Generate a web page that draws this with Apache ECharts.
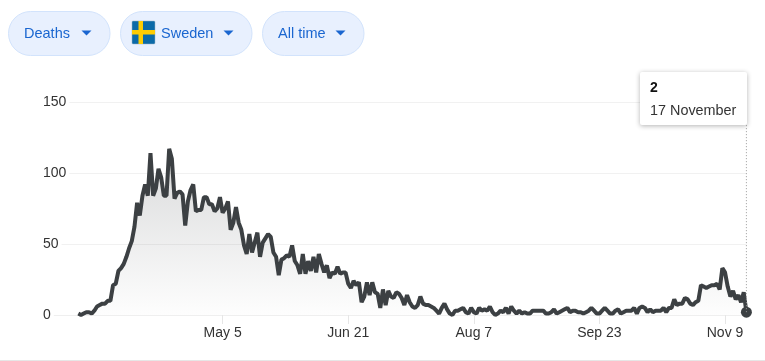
<!DOCTYPE html>
<html>
<head>
<meta charset="utf-8">
<style>html,body{margin:0;padding:0;background:#fff}#c{width:765px;height:361px}</style>
<script src="https://cdn.jsdelivr.net/npm/echarts@6/dist/echarts.min.js"></script>
</head>
<body>
<div id="c"></div>
<script>
const startDate = 'Mar 12 2020';
const deaths = [
 1,0,1,2,2,1,3,6,7,8, 8,10,10,21,22,31,33,36,41,47,
 52,62,79,70,84,92,84,114,84,89, 103,97,84,84,117,110,82,86,87,85,
 63,80,88,92,73,74,74,83,83,78, 78,73,75,83,72,75,80,60,65,76,
 65,60,49,43,57,44,51,58,41,51, 54,57,55,44,41,28,39,40,42,41,
 49,38,35,29,43,29,38,31,41,30, 43,36,30,35,26,30,29,34,29,30,
 30,22,19,24,21,23,9,13,23,14, 23,16,15,5,18,7,17,13,12,16,
 15,12,7,14,9,6,5,7,13,8, 7,7,6,5,3,1,5,8,4,1,
 0,3,3,4,5,2,1,5,2,1, 5,3,4,3,6,2,0,1,3,2,
 5,1,6,3,1,3,1,2,1,1, 3,3,3,3,3,1,1,2,4,1,
 2,3,4,5,2,3,3,2,2,1, 2,3,5,3,1,1,3,5,3,1,
 1,3,4,1,2,3,3,3,5,1, 5,6,5,2,4,2,3,3,3,5,
 2,5,5,11,7,8,8,12,11,8, 7,9,10,21,20,19,20,21,21,22,
 18,33,30,20,13,17,11,14,9,16, 2
];
const yTicks = [0, 50, 100, 150];
const tickLabels = ['May 5', 'Jun 21', 'Aug 7', 'Sep 23', 'Nov 9'];
const tooltipValue = '2';
const tooltipDate = '17 November';
const buttons = ['Deaths', 'Sweden', 'All time'];
const cursorTopValue = 134;

const DAY = 86400000;
const t0 = new Date(startDate).getTime();
const lineData = deaths.map((v, i) => [i, v]);
const last = lineData[lineData.length - 1];
const tickDays = tickLabels.map(l => Math.round((new Date(l + ' 2020').getTime() - t0) / DAY));
const labelAt = d => tickLabels[tickDays.indexOf(d)] || '';

const FONT = '"Liberation Sans", Arial, sans-serif';
const BLUE = '#1a66d0';
function pill(x, w) {
  return { type: 'rect', shape: { x: x + .5, y: 11.5, width: w - 0.5, height: 44, r: 22 },
    style: { fill: '#e8f0fe', stroke: '#d2e3fc', lineWidth: 1 } };
}
function label(x, t) {
  return { type: 'text', x: x, y: 33.5, style: { text: t, fill: BLUE, font: '14.5px ' + FONT, textVerticalAlign: 'middle' } };
}
function tri(x) {
  return { type: 'polygon', shape: { points: [[x, 30.5], [x + 10, 30.5], [x + 5, 35.5]] }, style: { fill: BLUE } };
}
const chart = echarts.init(document.getElementById('c'), null, { renderer: 'canvas' });
chart.setOption({
  animation: false,
  backgroundColor: '#fff',
  grid: { left: 51.6, right: 18.6, top: 102, bottom: 46 },
  xAxis: {
    type: 'value',
    min: -10,
    max: last[0],
    axisLine: { show: true, onZero: false, lineStyle: { color: '#efefef', width: 1 } },
    axisTick: { show: true, length: 9, customValues: tickDays, lineStyle: { color: '#e6e6e6', width: 1 } },
    axisLabel: { show: true, margin: 11, customValues: tickDays, formatter: v => labelAt(v), color: '#333', fontSize: 14, fontFamily: FONT },
    splitLine: { show: false }
  },
  yAxis: {
    type: 'value', min: yTicks[0], max: yTicks[yTicks.length - 1], interval: yTicks[1],
    axisLine: { show: false }, axisTick: { show: false },
    axisLabel: { inside: true, margin: -8.6, align: 'left', color: '#333', fontSize: 14, fontFamily: FONT,
      backgroundColor: '#fff', padding: [4, 3, 2, 0] },
    splitLine: { show: true, lineStyle: { color: '#f1f1f1', width: 1 } }
  },
  series: [
    { type: 'line', data: lineData, showSymbol: false, clip: false, smooth: false,
      lineStyle: { color: '#3c4043', width: 4, join: 'bevel' },
      areaStyle: { color: { type: 'linear', x: 0, y: 0, x2: 0, y2: 1, colorStops: [
        { offset: 0, color: 'rgba(60,64,67,0.28)' }, { offset: 1, color: 'rgba(60,64,67,0.01)' } ] } } },
    { type: 'line', data: [last, [last[0], cursorTopValue]], showSymbol: false, clip: false, silent: true,
      lineStyle: { color: '#9a9a9a', width: 1, type: [1, 2] } },
    { type: 'scatter', data: [last], symbolSize: 11, clip: false, itemStyle: { color: '#3c4043', opacity: 1 } }
  ],
  graphic: [
    pill(8, 102), label(24, buttons[0]), tri(81.5),
    pill(120, 132),
    { type: 'rect', shape: { x: 132, y: 21, width: 23, height: 23, r: 1 }, style: { fill: '#0b6aa8', stroke: '#9fb4c4', lineWidth: 0.5 } },
    { type: 'rect', shape: { x: 138.5, y: 21, width: 4.5, height: 23 }, style: { fill: '#fecc02' } },
    { type: 'rect', shape: { x: 132, y: 30, width: 23, height: 4.5 }, style: { fill: '#fecc02' } },
    label(161, buttons[1]), tri(223.5),
    pill(262, 102), label(278, buttons[2]), tri(335.5),
    { type: 'rect', shape: { x: 640, y: 72, width: 107, height: 53, r: 2 },
      style: { fill: '#fff', shadowBlur: 5, shadowColor: 'rgba(0,0,0,0.3)', shadowOffsetY: 1 }, z: 50 },
    { type: 'text', x: 650, y: 88.5, z: 51, style: { text: tooltipValue, fill: '#111', font: 'bold 14px ' + FONT, textVerticalAlign: 'middle' } },
    { type: 'text', x: 650, y: 111.5, z: 51, style: { text: tooltipDate, fill: '#333', font: '14.4px ' + FONT, textVerticalAlign: 'middle' } },
    { type: 'rect', shape: { x: 0, y: 360, width: 765, height: 1 }, style: { fill: '#e6e6e6' } }
  ]
});
</script>
</body>
</html>
